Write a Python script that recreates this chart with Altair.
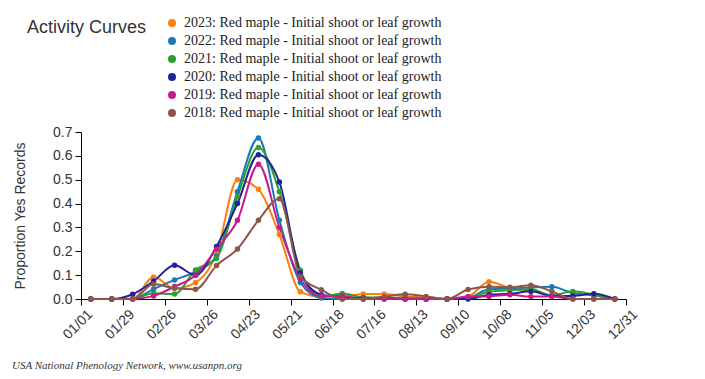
import altair as alt
import pandas as pd

# x positions of the bi-weekly points (days after Jan 1)
days = [6.5, 20.5, 34.5, 48.5, 62.5, 76.5, 90.5, 104.5, 118.5, 132.5, 146.5, 160.5, 174.5,
        188.5, 202.5, 216.5, 230.5, 244.5, 258.5, 272.5, 286.5, 300.5, 314.5, 328.5, 342.5, 356.5]

tick_days = [0, 28, 56, 84, 112, 140, 168, 196, 224, 252, 280, 308, 336, 364]
tick_labels = ["01/01", "01/29", "02/26", "03/26", "04/23", "05/21", "06/18",
               "07/16", "08/13", "09/10", "10/08", "11/05", "12/03", "12/31"]

years = ["2023", "2022", "2021", "2020", "2019", "2018"]
colors = ["#ff7f0e", "#1f77b4", "#2ca02c", "#22229a", "#c71a8e", "#8c564b"]
suffix = ": Red maple - Initial shoot or leaf growth"

v2023 = [0, 0, 0, 0.092, 0.045, 0.069, 0.19, 0.50, 0.46, 0.27, 0.03, 0.01, 0.01,
         0.021, 0.021, 0.011, 0.007, 0, 0.01, 0.072, 0.046, 0.03,
         None, None, None, None]
v2022 = [0, 0, 0, 0.042, 0.08, 0.115, 0.18, 0.45, 0.675, 0.33, 0.069, 0.004, 0,
         0, 0, 0, 0, 0, 0.005, 0.041, 0.044, 0.048, 0.051, 0.025, 0.015, 0]
v2021 = [0, 0, 0, 0.024, 0.021, 0.122, 0.17, 0.43, 0.635, 0.45, 0.121, 0.008, 0.023,
         0.007, 0.006, 0.005, 0.004, 0, 0.005, 0.03, 0.037, 0.041, 0.015, 0.032, 0.018, 0]
v2020 = [0, 0, 0.02, 0.075, 0.141, 0.10, 0.22, 0.40, 0.605, 0.49, 0.11, 0.018, 0.008,
         0.003, 0.003, 0, 0, 0, 0, 0.018, 0.022, 0.032, 0.013, 0.013, 0.022, 0]
v2019 = [0, 0, 0, 0.013, 0.052, 0.10, 0.21, 0.33, 0.565, 0.30, 0.085, 0.013, 0.013,
         0, 0, 0, 0, 0, 0.01, 0.011, 0.018, 0.01, 0.01, 0, 0, 0]
v2018 = [0, 0, 0, 0.063, 0.045, 0.041, 0.14, 0.21, 0.33, 0.42, 0.095, 0.039, 0,
         0, 0.01, 0.02, 0.011, 0, 0.04, 0.051, 0.049, 0.058, 0.032, 0, 0, 0]

series_values = [v2023, v2022, v2021, v2020, v2019, v2018]

title_text = "Activity Curves"
footer_text = "USA National Phenology Network, www.usanpn.org"
y_title = "Proportion Yes Records"

rows = []
for order, (yr, vals) in enumerate(zip(years, series_values)):
    for d, v in zip(days, vals):
        if v is None:
            continue
        rows.append({"day": d, "value": v, "series": yr + suffix, "order": order})
df = pd.DataFrame(rows)

domain = [y + suffix for y in years]

label_expr = "[" + ",".join("'" + t + "'" for t in tick_labels) + "][round(datum.value/28)]"

sans = "Liberation Sans, Arial, sans-serif"
serif = "Liberation Serif, Times New Roman, serif"

x_enc = alt.X(
    "day:Q",
    scale=alt.Scale(domain=[0, 364], nice=False, zero=False),
    axis=alt.Axis(
        values=tick_days, labelExpr=label_expr, title=None, grid=False,
        labelAngle=-45, labelAlign="right", labelBaseline="top",
        labelOffset=4,
        labelFontSize=14, labelFont=sans, labelColor="#333333",
        tickSize=6, tickColor="#000000", domainColor="#000000",
        labelPadding=2, labelOverlap=False,
    ),
)
y_enc = alt.Y(
    "value:Q",
    scale=alt.Scale(domain=[0, 0.7], nice=False),
    axis=alt.Axis(
        values=[0, 0.1, 0.2, 0.3, 0.4, 0.5, 0.6, 0.7], format=".1f",
        title=y_title, titleFont=sans, titleFontSize=14, titleFontWeight="normal",
        titleColor="#333333", titleAngle=-90, titleX=-61, titleY=83.5,
        titleAlign="center", titleBaseline="middle",
        grid=False, labelFontSize=14, labelFont=sans, labelColor="#333333",
        tickSize=6, tickColor="#000000", domainColor="#000000", labelPadding=3,
    ),
)
color_enc = alt.Color(
    "series:N",
    scale=alt.Scale(domain=domain, range=colors),
    legend=alt.Legend(
        title=None, orient="none", legendX=84, legendY=-116,
        symbolType="circle", symbolSize=64, symbolStrokeWidth=0,
        labelFont=serif, labelFontSize=14, labelColor="#222222",
        labelLimit=500, rowPadding=4, padding=0, labelOffset=5,
    ),
    sort=domain,
)

base = alt.Chart(df)
lines = base.mark_line(interpolate="monotone", strokeWidth=2).encode(
    x=x_enc, y=y_enc, color=color_enc, detail="series:N",
    order=alt.Order("day:Q"),
)
points = base.mark_circle(size=30, opacity=1).encode(
    x=x_enc, y=y_enc, color=alt.Color("series:N", scale=alt.Scale(domain=domain, range=colors), legend=None),
    order=alt.Order("order:Q"),
)

title_layer = alt.Chart(pd.DataFrame({"t": [title_text]})).mark_text(
    align="left", baseline="alphabetic", font=sans, fontSize=18, color="#333333"
).encode(text="t:N", x=alt.value(-54), y=alt.value(-99.5))

footer_layer = alt.Chart(pd.DataFrame({"t": [footer_text]})).mark_text(
    align="left", baseline="alphabetic", font=serif, fontSize=11, fontStyle="italic", color="#333333"
).encode(text="t:N", x=alt.value(-69), y=alt.value(237))

chart = alt.layer(lines, points, title_layer, footer_layer).properties(
    width=545, height=167,
    autosize=alt.AutoSizeParams(type="none"),
    padding={"left": 73, "top": 124, "right": 20, "bottom": 72},
).configure_view(stroke=None)

chart.save("out.html", embed_options={"renderer": "svg", "actions": False})
